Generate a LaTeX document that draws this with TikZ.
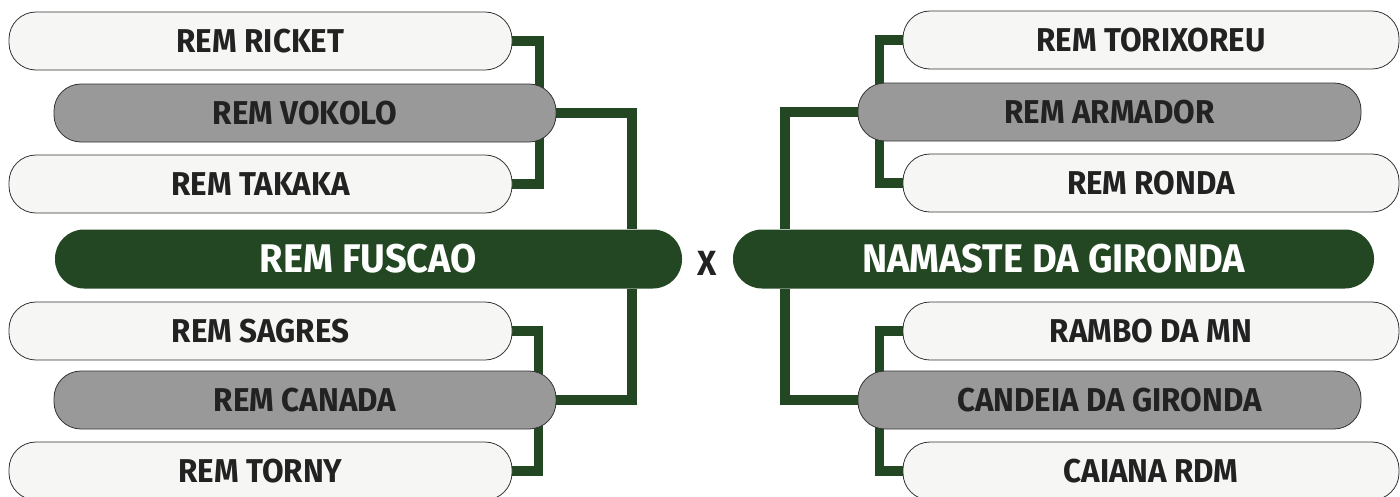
\documentclass[tikz,border=0pt]{standalone}
\usepackage{fontspec}
\setmainfont{Fira Sans}[FakeStretch=0.95]
\pgfdeclarelayer{background}
\pgfsetlayers{background,main}
\definecolor{brgreen}{HTML}{234722}
\definecolor{boxgray}{HTML}{999999}
\definecolor{boxwhite}{HTML}{F6F6F4}
\definecolor{boxline}{HTML}{333333}
\definecolor{txt}{HTML}{222222}
\tikzset{
  team/.style={draw=boxline, line width=0.8pt, rounded corners=27pt, minimum height=58pt,
    inner sep=0pt, text=txt, font=\fontsize{33}{36}\selectfont\bfseries},
  teamw/.style={team, fill=boxwhite, minimum width=503pt},
  teamg/.style={team, fill=boxgray, minimum width=502pt},
  winner/.style={fill=brgreen, rounded corners=29pt, minimum height=59pt, inner sep=0pt,
    text=white, font=\fontsize{40}{44}\selectfont\bfseries},
  bracket/.style={draw=brgreen, line width=9.5pt, line join=miter},
}
\begin{document}
\begin{tikzpicture}[x=1pt,y=-1pt]
\useasboundingbox (0,0) rectangle (1400,496);
% left side
\node[teamw] (ricket) at (260.5,41) {REM RICKET};
\node[teamg] (vokolo) at (305,113) {REM VOKOLO};
\node[teamw] (takaka) at (260.5,184) {REM TAKAKA};
\node[winner, minimum width=627pt] (fuscao) at (368.5,259) {REM FUSCAO};
\node[teamw] (sagres) at (260.5,331) {REM SAGRES};
\node[teamg] (canada) at (305,400) {REM CANADA};
\node[teamw] (torny) at (260.5,471) {REM TORNY};
% right side
\node[teamw, minimum width=496pt] (torix) at (1151,40) {REM TORIXOREU};
\node[teamg, minimum width=503pt] (armador) at (1109.5,112) {REM ARMADOR};
\node[teamw, minimum width=496pt] (ronda) at (1151,183) {REM RONDA};
\node[winner, minimum width=641pt] (namaste) at (1053.5,259) {NAMASTE DA GIRONDA};
\node[teamw, minimum width=496pt] (rambo) at (1151,331) {RAMBO DA MN};
\node[teamg, minimum width=503pt] (candeia) at (1109.5,400) {CANDEIA DA GIRONDA};
\node[teamw, minimum width=496pt] (caiana) at (1151,471) {CAIANA RDM};
% versus
\node[text=txt, font=\fontsize{35}{38}\selectfont\bfseries] (vs) at (707.5,263) {X};
\begin{pgfonlayer}{background}
\draw[bracket] (ricket.east) -- ++(27,0) |- (takaka.east);
\draw[bracket] (vokolo.east) -| ([xshift=-50pt]fuscao.north east);
\draw[bracket] ([xshift=-50pt]fuscao.south east) |- (canada.east);
\draw[bracket] (sagres.east) -- ++(26,0) |- (torny.east);
\draw[bracket] (torix.west) -- ++(-23,0) |- (ronda.west);
\draw[bracket] (armador.west) -| ([xshift=52pt]namaste.north west);
\draw[bracket] ([xshift=52pt]namaste.south west) |- (candeia.west);
\draw[bracket] (rambo.west) -- ++(-23,0) |- (caiana.west);
\end{pgfonlayer}
\end{tikzpicture}
\end{document}
